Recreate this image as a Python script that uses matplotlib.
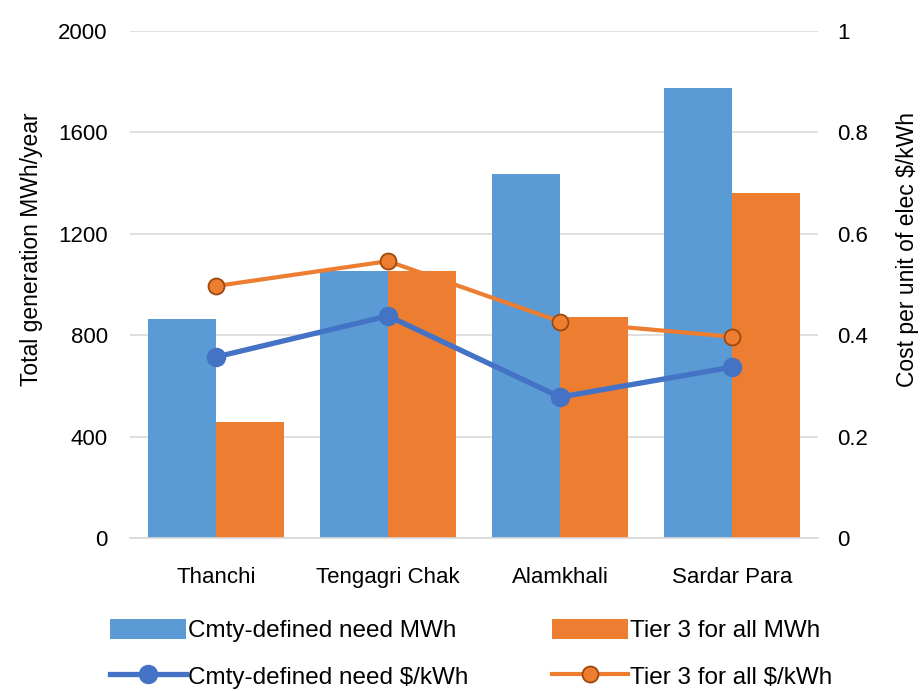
import numpy as np
import matplotlib
matplotlib.use("Agg")
import matplotlib.pyplot as plt
from matplotlib.ticker import FuncFormatter

plt.rcParams['font.family'] = ['Liberation Sans', 'DejaVu Sans']

sites = ["Thanchi", "Tengagri Chak", "Alamkhali", "Sardar Para"]
need_mwh = [864, 1053, 1436, 1775]
tier3_mwh = [458, 1053, 873, 1360]
need_cost = [0.357, 0.438, 0.278, 0.337]
tier3_cost = [0.497, 0.546, 0.427, 0.397]

blue_bar = "#5B9BD5"
orange_bar = "#ED7D31"
blue_line = "#4472C4"
orange_edge = "#9E480E"
grid_col = "#D9D9D9"

fig = plt.figure(figsize=(9.21, 6.91), dpi=100)
ax = fig.add_axes([130 / 921, 1 - 538 / 691, 688 / 921, 507 / 691])

x = np.arange(len(sites))
w = 0.396
b1 = ax.bar(x - w / 2, need_mwh, w, color=blue_bar, label="Cmty-defined need MWh", zorder=2)
b2 = ax.bar(x + w / 2, tier3_mwh, w, color=orange_bar, label="Tier 3 for all MWh", zorder=2)

ax.set_xlim(-0.5, 3.5)
ax.set_ylim(0, 2000)
ax.set_yticks(np.arange(0, 2001, 400))
ax.yaxis.grid(True, color=grid_col, linewidth=1.2, zorder=0)
ax.set_axisbelow(True)
for s in ["top", "right", "left"]:
    ax.spines[s].set_visible(False)
ax.spines["bottom"].set_color(grid_col)
ax.spines["bottom"].set_linewidth(1.2)
ax.set_xticks(x)
ax.set_xticklabels(sites)
ax.tick_params(axis="x", length=0, pad=21, labelsize=16)
ax.tick_params(axis="y", length=0, pad=16, labelsize=16)
ax.set_ylabel("Total generation MWh/year", fontsize=16.5)
ax.yaxis.set_label_coords(-0.127, 0.57)

ax2 = ax.twinx()
ax2.set_ylim(0, 1)
ax2.set_yticks(np.arange(0, 1.01, 0.2))
ax2.yaxis.set_major_formatter(FuncFormatter(lambda v, p: "{:g}".format(round(v, 1))))
for s in ax2.spines.values():
    s.set_visible(False)
ax2.tick_params(axis="y", length=0, pad=14, labelsize=16)
ax2.set_ylabel("Cost per unit of elec $/kWh", fontsize=16.5)
ax2.yaxis.set_label_coords(1.113, 0.57)

l1, = ax2.plot(x, need_cost, color=blue_line, linewidth=3.8, marker="o",
               markersize=13, markerfacecolor=blue_line, markeredgecolor=blue_line,
               label="Cmty-defined need $/kWh", clip_on=False)
l2, = ax2.plot(x, tier3_cost, color=orange_bar, linewidth=3, marker="o",
               markersize=11.5, markerfacecolor=orange_bar, markeredgecolor=orange_edge,
               markeredgewidth=1.3, label="Tier 3 for all $/kWh", clip_on=False)

fig.legend([b1, l1, b2, l2], [h.get_label() for h in [b1, l1, b2, l2]],
           loc="center left", bbox_to_anchor=(98 / 921, 0.054), ncol=2, frameon=False,
           fontsize=17.5, handlelength=3.1, handleheight=0.9, handletextpad=0.1,
           columnspacing=3.45, labelspacing=0.95, borderpad=0)

fig.savefig("out.png", dpi=100)
